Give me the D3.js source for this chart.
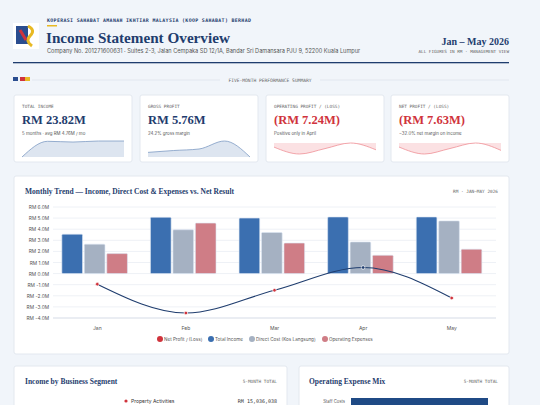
<!DOCTYPE html><html><head><meta charset="utf-8"><script src="https://cdn.jsdelivr.net/npm/d3@7"></script>
<style>body{margin:0;background:#f1f5fa;overflow:hidden}svg{display:block}</style></head><body><svg id="c" width="540" height="405"></svg>
<script>
const months=["Jan","Feb","Mar","Apr","May"];
const totalIncome=[3.55,5.07,5.0,5.1,5.1];
const directCost=[2.65,3.95,3.7,2.85,4.75];
const opex=[1.8,4.55,2.75,1.65,2.2];
const netProfit=[-0.95,-3.55,-1.5,0.55,-2.2];
const yTicks=[6,5,4,3,2,1,0,-1,-2,-3,-4];
const kpiLabels=["TOTAL INCOME","GROSS PROFIT","OPERATING PROFIT / (LOSS)","NET PROFIT / (LOSS)"];
const kpiValues=["RM 23.82M","RM 5.76M","(RM 7.24M)","(RM 7.63M)"];
const kpiSubs=["5 months · avg RM 4.76M / mo","24.2% gross margin","Positive only in April","−32.0% net margin on income"];
const grossProfit=[0.9,1.12,1.3,2.25,0.35];
const opProfit=[-0.9,-3.43,-1.45,0.6,-1.9];
const legendNames=["Net Profit / (Loss)","Total Income","Direct Cost (Kos Langsung)","Operating Expenses"];
const colInc="#3b6fb0",colDC="#a5b1c2",colOp="#cf7d86",navy="#1f3d6e",red="#d0333c";
const svg=d3.select("#c");
const mono="'DejaVu Sans Mono',monospace",serif="'Liberation Serif',serif",sans="Inter,'Noto Sans',sans-serif";
// header
svg.append("rect").attr("x",13).attr("y",23).attr("width",26).attr("height",26).attr("fill","#fff");
svg.append("rect").attr("x",16).attr("y",26).attr("width",12).attr("height",18).attr("fill","#2a4d8f");
svg.append("path").attr("d","M28 26 q8 4 2 10 q-5 5 2 10").attr("stroke","#e8b923").attr("stroke-width",3).attr("fill","none");
svg.append("path").attr("d","M20 30 l6 10").attr("stroke","#d0333c").attr("stroke-width",3);
svg.append("text").attr("x",47).attr("y",22).text("KOPERASI SAHABAT AMANAH IKHTIAR MALAYSIA (KOOP SAHABAT) BERHAD").attr("font-family",mono).attr("font-size",4.9).attr("font-weight","bold").attr("fill",navy).attr("letter-spacing",0.35);
svg.append("rect").attr("x",47).attr("y",25).attr("width",10).attr("height",1.5).attr("fill","#e8b923");
svg.append("text").attr("x",46).attr("y",43).text("Income Statement Overview").attr("font-family",serif).attr("font-size",15.2).attr("font-weight","bold").attr("fill",navy);
svg.append("text").attr("x",47).attr("y",53).text("Company No. 201271600631  ·  Suites 2-3, Jalan Cempaka SD 12/1A, Bandar Sri Damansara PJU 9, 52200 Kuala Lumpur").attr("font-family",sans).attr("font-size",5.6).attr("fill","#555");
svg.append("text").attr("x",509).attr("y",45).attr("text-anchor","end").text("Jan – May 2026").attr("font-family",serif).attr("font-size",10).attr("font-weight","bold").attr("fill",navy);
svg.append("text").attr("x",509).attr("y",53).attr("text-anchor","end").text("ALL FIGURES IN RM · MANAGEMENT VIEW").attr("font-family",mono).attr("font-size",4.3).attr("fill","#666");
svg.append("rect").attr("x",13).attr("y",62).attr("width",496).attr("height",1.3).attr("fill",navy);
[["#2a4d8f",13],["#d0333c",20],["#e8b923",25]].forEach(([c,x])=>svg.append("rect").attr("x",x).attr("y",77).attr("width",5).attr("height",4).attr("fill",c));
svg.append("line").attr("x1",32).attr("x2",220).attr("y1",80).attr("y2",80).attr("stroke","#e2e7ef");
svg.append("line").attr("x1",320).attr("x2",509).attr("y1",80).attr("y2",80).attr("stroke","#e2e7ef");
svg.append("text").attr("x",270).attr("y",81.5).attr("text-anchor","middle").text("FIVE-MONTH PERFORMANCE SUMMARY").attr("font-family",mono).attr("font-size",4.6).attr("fill","#666");
// kpi cards
const cx=[14,140,266,391];
cx.forEach((x,i)=>{
 const g=svg.append("g").attr("transform",`translate(${x},95)`);
 g.append("rect").attr("width",118).attr("height",67).attr("rx",2).attr("fill","#fff").attr("stroke","#e3e8ef");
 g.append("text").attr("x",8).attr("y",13).text(kpiLabels[i]).attr("font-family",mono).attr("font-size",4.4).attr("fill","#666");
 g.append("text").attr("x",8).attr("y",29).text(kpiValues[i]).attr("font-family",serif).attr("font-size",12.5).attr("font-weight","bold").attr("fill",i<2?navy:red);
 g.append("text").attr("x",8).attr("y",40).text(kpiSubs[i]).attr("font-family",sans).attr("font-size",4.4).attr("fill","#555");
 const data=[totalIncome,grossProfit,opProfit,netProfit][i];
 const sx=d3.scalePoint().domain(d3.range(5)).range([8,110]);
 const sy=d3.scaleLinear().domain(d3.extent(data)).range([i<2?62:59,i<2?46:48]);
 const base=i<2?62:48;
 g.append("path").datum(data).attr("d",d3.area().x((d,j)=>sx(j)).y0(base).y1(d=>sy(d)).curve(d3.curveMonotoneX)).attr("fill",i<2?"#dde5f0":"#fbe1e3");
 g.append("path").datum(data).attr("d",d3.line().x((d,j)=>sx(j)).y(d=>sy(d)).curve(d3.curveMonotoneX)).attr("fill","none").attr("stroke",i<2?"#7f9cc4":"#ef8f96").attr("stroke-width",0.8);
});
// main chart card
svg.append("rect").attr("x",14).attr("y",176).attr("width",495).attr("height",178).attr("rx",2).attr("fill","#fff").attr("stroke","#e3e8ef");
svg.append("text").attr("x",25).attr("y",194).text("Monthly Trend — Income, Direct Cost & Expenses vs. Net Result").attr("font-family",serif).attr("font-size",7.5).attr("font-weight","bold").attr("fill",navy);
svg.append("text").attr("x",498).attr("y",193).attr("text-anchor","end").text("RM · JAN–MAY 2026").attr("font-family",mono).attr("font-size",4.4).attr("fill","#666");
const y=d3.scaleLinear().domain([-4,6]).range([318,207]);
const x0=d3.scaleBand().domain(months).range([53,496]);
const x1=d3.scaleBand().domain([0,1,2]).range([x0.bandwidth()*0.1,x0.bandwidth()*0.84]).paddingInner(0.08);
const gy=svg.append("g").attr("transform","translate(53,0)").call(d3.axisLeft(y).tickValues(yTicks).tickSize(0).tickPadding(4).tickFormat(d=>"RM "+d.toFixed(1)+"M"));
gy.select(".domain").remove();gy.selectAll("text").attr("font-family",sans).attr("font-size",4.8).attr("fill","#555");
svg.append("g").selectAll("line").data(yTicks).join("line").attr("x1",53).attr("x2",496).attr("y1",d=>y(d)).attr("y2",d=>y(d)).attr("stroke","#eef1f6");
svg.append("line").attr("x1",53).attr("x2",496).attr("y1",318).attr("y2",318).attr("stroke","#dde2ea");
const gx=svg.append("g").attr("transform","translate(0,318)").call(d3.axisBottom(x0).tickSize(0).tickPadding(8));
gx.select(".domain").remove();gx.selectAll("text").attr("font-family",sans).attr("font-size",5).attr("fill","#555");
const series=[totalIncome,directCost,opex],cols=[colInc,colDC,colOp];
series.forEach((s,k)=>svg.append("g").selectAll("rect").data(s).join("rect")
 .attr("x",(d,i)=>x0(months[i])+x1(k)).attr("width",x1.bandwidth()).attr("y",d=>y(d)).attr("height",d=>y(0)-y(d))
 .attr("fill",cols[k]).attr("stroke","#dce6f3").attr("stroke-width",0.6).attr("rx",1));
const cxm=m=>x0(m)+x0.bandwidth()/2;
svg.append("path").datum(netProfit).attr("d",d3.line().x((d,i)=>cxm(months[i])).y(d=>y(d)).curve(d3.curveMonotoneX)).attr("fill","none").attr("stroke",navy).attr("stroke-width",1.1);
svg.append("g").selectAll("circle").data(netProfit).join("circle").attr("cx",(d,i)=>cxm(months[i])).attr("cy",d=>y(d)).attr("r",1.8)
 .attr("fill",d=>d<0?red:navy).attr("stroke","#fff").attr("stroke-width",0.7);
const lc=[red,colInc,colDC,colOp],lx=[157,208,249,322];
legendNames.forEach((n,i)=>{svg.append("circle").attr("cx",lx[i]+3).attr("cy",339).attr("r",3).attr("fill",lc[i]);
 svg.append("text").attr("x",lx[i]+7).attr("y",341).text(n).attr("font-family",sans).attr("font-size",4.6).attr("fill","#555");});
// bottom cards
svg.append("rect").attr("x",14).attr("y",366).attr("width",273).attr("height",60).attr("rx",2).attr("fill","#fff").attr("stroke","#e3e8ef");
svg.append("text").attr("x",25).attr("y",384).text("Income by Business Segment").attr("font-family",serif).attr("font-size",7.5).attr("font-weight","bold").attr("fill",navy);
svg.append("text").attr("x",277).attr("y",383).attr("text-anchor","end").text("5-MONTH TOTAL").attr("font-family",mono).attr("font-size",4.4).attr("fill","#666");
svg.append("circle").attr("cx",126).attr("cy",401).attr("r",1.6).attr("fill",red);
svg.append("text").attr("x",131).attr("y",403).text("Property Activities").attr("font-family",sans).attr("font-size",5).attr("fill","#333");
svg.append("text").attr("x",277).attr("y",403).attr("text-anchor","end").text("RM 15,036,038").attr("font-family",mono).attr("font-size",5).attr("fill","#333");
svg.append("rect").attr("x",299).attr("y",366).attr("width",210).attr("height",60).attr("rx",2).attr("fill","#fff").attr("stroke","#e3e8ef");
svg.append("text").attr("x",309).attr("y",384).text("Operating Expense Mix").attr("font-family",serif).attr("font-size",7.5).attr("font-weight","bold").attr("fill",navy);
svg.append("text").attr("x",498).attr("y",383).attr("text-anchor","end").text("5-MONTH TOTAL").attr("font-family",mono).attr("font-size",4.4).attr("fill","#666");
svg.append("text").attr("x",345).attr("y",403).attr("text-anchor","end").text("Staff Costs").attr("font-family",sans).attr("font-size",4.2).attr("fill","#555");
svg.append("rect").attr("x",351).attr("y",398).attr("width",137).attr("height",10).attr("fill","#1f4a85");
</script></body></html>
